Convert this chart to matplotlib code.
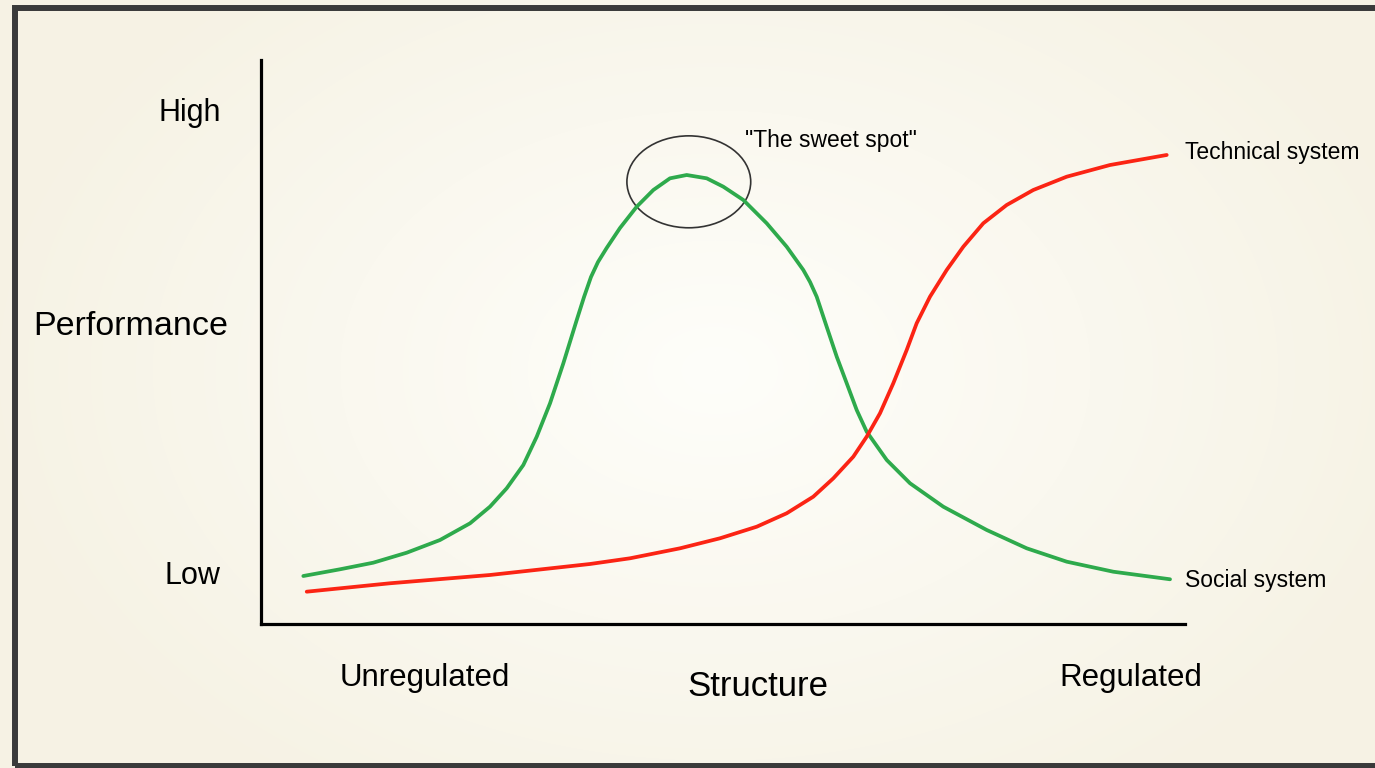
import numpy as np
import matplotlib.pyplot as plt
from matplotlib.patches import Ellipse, Rectangle

plt.rcParams['font.family'] = ['Liberation Sans', 'DejaVu Sans']

# Structure (0 = unregulated, 100 = regulated) vs performance (0 = low, 100 = high)
social_x = [4.58, 8.55, 12.15, 15.77, 19.37, 22.62, 24.78, 26.59, 28.39, 29.84,
            31.28, 32.72, 34.17, 34.96, 35.71, 36.47, 37.41, 38.85, 40.66, 42.46,
            44.26, 46.07, 48.24, 50.03, 52.20, 54.73, 56.89, 58.69, 59.42, 60.14,
            61.22, 62.31, 63.39, 64.47, 65.55, 67.72, 70.24, 73.84, 78.54, 82.87,
            87.20, 92.24, 98.38]
social_y = [8.51, 9.70, 10.87, 12.64, 14.89, 17.85, 20.80, 24.06, 28.19, 33.21,
            39.13, 46.22, 53.90, 57.98, 61.52, 64.18, 66.67, 70.21, 73.99, 76.95,
            79.02, 79.61, 79.02, 77.54, 75.18, 71.05, 66.90, 62.77, 60.64, 58.03,
            52.71, 47.39, 42.68, 37.94, 34.10, 29.08, 24.95, 20.80, 16.67, 13.42,
            11.05, 9.27, 7.93]

tech_x = [4.95, 13.96, 24.78, 35.61, 39.94, 45.35, 49.68, 53.65, 56.89, 59.77,
          61.94, 64.10, 65.55, 66.99, 68.43, 69.88, 70.96, 72.40, 74.21, 76.01,
          78.17, 80.70, 83.58, 87.20, 91.88, 98.02]
tech_y = [5.73, 7.22, 8.69, 10.64, 11.65, 13.42, 15.20, 17.25, 19.63, 22.57,
          25.83, 29.66, 33.21, 37.36, 42.68, 48.58, 53.32, 58.03, 62.77, 66.90,
          71.05, 74.29, 76.95, 79.31, 81.38, 83.16]

sweet_spot = (46.3, 78.4)   # centre of the circled peak
sweet_size = (13.4, 16.3)

W, H = 1375, 768
fig = plt.figure(figsize=(W / 100, H / 100), dpi=100)

# cream background, lighter in the middle
bg = fig.add_axes([0, 0, 1, 1])
yy, xx = np.mgrid[0:H, 0:W]
r = np.sqrt(((xx - 715) / 750.0) ** 2 + ((yy - 370) / 520.0) ** 2)
r = np.clip(r, 0, 1)
centre = np.array([254, 254, 250]) / 255.0
edge = np.array([246, 242, 228]) / 255.0
img = centre[None, None, :] * (1 - r[..., None]) + edge[None, None, :] * r[..., None]
bg.imshow(img, aspect='auto', extent=[0, W, H, 0])
bg.set_xlim(0, W)
bg.set_ylim(H, 0)
bg.axis('off')

# dark slide frame
fig.patches.append(Rectangle((15 / W, 1 - 766 / H), 1.2, (766 - 8) / H,
                             transform=fig.transFigure, fill=False,
                             edgecolor='#3a3a3a', linewidth=4.3, zorder=5))

ax = fig.add_axes([261 / W, 144 / H, 924 / W, 564 / H])
ax.patch.set_alpha(0)
ax.set_xlim(0, 100)
ax.set_ylim(0, 100)
for s in ['top', 'right']:
    ax.spines[s].set_visible(False)
for s in ['left', 'bottom']:
    ax.spines[s].set_linewidth(2.3)
    ax.spines[s].set_color('black')
ax.set_xticks([])
ax.set_yticks([])

ax.plot(social_x, social_y, color='#2eaa4c', lw=2.7, solid_capstyle='round',
        solid_joinstyle='round', clip_on=False)
ax.plot(tech_x, tech_y, color='#fb2414', lw=2.7, solid_capstyle='round',
        solid_joinstyle='round', clip_on=False)
ax.add_patch(Ellipse(sweet_spot, sweet_size[0], sweet_size[1], fill=False,
                     edgecolor='#333333', lw=1.2))

fig.text(190 / W, 1 - 113 / H, 'High', fontsize=22, ha='center', va='center')
fig.text(131 / W, 1 - 326 / H, 'Performance', fontsize=24.5, ha='center', va='center')
fig.text(192 / W, 1 - 576 / H, 'Low', fontsize=22, ha='center', va='center')
fig.text(425 / W, 1 - 678 / H, 'Unregulated', fontsize=22.5, ha='center', va='center')
fig.text(758 / W, 1 - 686 / H, 'Structure', fontsize=25, ha='center', va='center')
fig.text(1131 / W, 1 - 678 / H, 'Regulated', fontsize=22.5, ha='center', va='center')
fig.text(831 / W, 1 - 141 / H, '"The sweet spot"', fontsize=16.5, ha='center', va='center')
fig.text(1185 / W, 1 - 153 / H, 'Technical system', fontsize=16.5, ha='left', va='center')
fig.text(1185 / W, 1 - 580 / H, 'Social system', fontsize=16.5, ha='left', va='center')

fig.savefig('out.png', dpi=100)
